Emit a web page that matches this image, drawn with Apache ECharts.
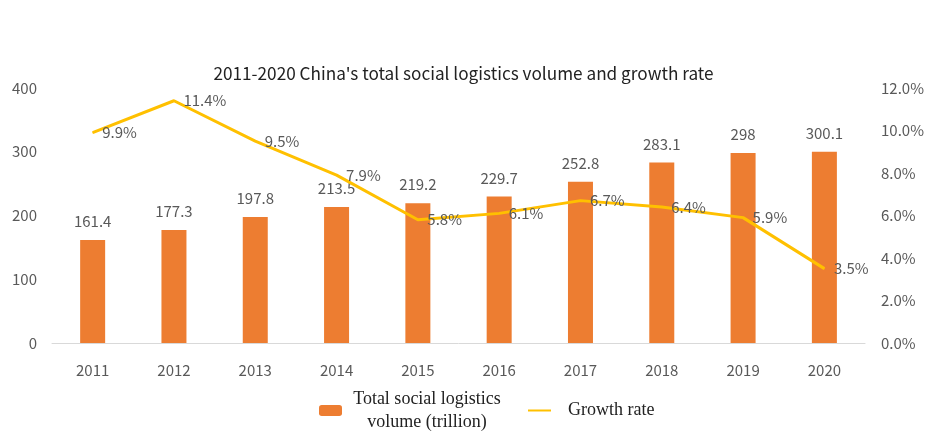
<!DOCTYPE html>
<html><head><meta charset="utf-8">
<script src="https://cdn.jsdelivr.net/npm/echarts@6/dist/echarts.min.js"></script>
<style>html,body{margin:0;padding:0;background:#fff}#c{width:927px;height:434px}</style>
</head><body><div id="c"></div>
<script>
const years = ['2011','2012','2013','2014','2015','2016','2017','2018','2019','2020'];
const volume = [161.4,177.3,197.8,213.5,219.2,229.7,252.8,283.1,298,300.1];
const growth = [9.9,11.4,9.5,7.9,5.8,6.1,6.7,6.4,5.9,3.5];
const leftTicks = {min:0,max:400,interval:100};
const rightTicks = {min:0,max:12,interval:2};

const font = '"Noto Sans CJK SC","Noto Sans",sans-serif';
const serif = '"Liberation Serif","Times New Roman",serif';
const chart = echarts.init(document.getElementById('c'));
chart.setOption({
  animation:false,
  title:{text:"2011-2020 China's total social logistics volume and growth rate",left:'center',top:60,
    textStyle:{fontFamily:font,fontSize:17.2,fontWeight:'normal',color:'#222'}},
  grid:{left:52,right:60,top:88,bottom:91},
  legend:{left:314,top:385,itemGap:20,itemWidth:23,itemHeight:11,
    data:[{name:'Total social logistics volume (trillion)'},{name:'Growth rate',itemStyle:{opacity:0}}],
    formatter:function(n){ if(n==='Growth rate') return '{b|Growth rate}'; return '{a|Total social logistics}\n{a|volume (trillion)}';},
    textStyle:{fontFamily:serif,fontSize:18,color:'#222',
      rich:{a:{width:160,align:'center',lineHeight:23,fontSize:18,fontFamily:serif,color:'#222'},
            b:{fontSize:18,fontFamily:serif,color:'#222',padding:[0,0,0,12]}}}
  },
  xAxis:{type:'category',data:years,
    axisLine:{lineStyle:{color:'#d9d9d9',width:1}},axisTick:{show:false},
    axisLabel:{fontFamily:font,fontSize:15,color:'#595959',margin:20}},
  yAxis:[
    {type:'value',min:leftTicks.min,max:leftTicks.max,interval:leftTicks.interval,splitLine:{show:false},
     axisLine:{show:false},axisTick:{show:false},
     axisLabel:{fontFamily:font,fontSize:15,color:'#595959',margin:15}},
    {type:'value',min:rightTicks.min,max:rightTicks.max,interval:rightTicks.interval,splitLine:{show:false},
     axisLine:{show:false},axisTick:{show:false},
     axisLabel:{fontFamily:font,fontSize:15,color:'#595959',margin:16,formatter:v=>v.toFixed(1)+'%'}}
  ],
  series:[
    {name:'Total social logistics volume (trillion)',type:'bar',data:volume,barWidth:25,
     itemStyle:{color:'#ED7D31'},
     label:{show:true,position:'top',distance:11,fontFamily:font,fontSize:15,color:'#595959'}},
    {name:'Growth rate',type:'line',yAxisIndex:1,data:growth,symbol:'circle',symbolSize:1,showSymbol:true,
     lineStyle:{color:'#FFC000',width:3},itemStyle:{color:'#FFC000'},
     labelLayout:{hideOverlap:false},
     label:{show:true,position:'right',distance:9,offset:[0,4],fontFamily:font,fontSize:15,color:'#595959',formatter:p=>p.value+'%'}}
  ]
});
</script></body></html>
